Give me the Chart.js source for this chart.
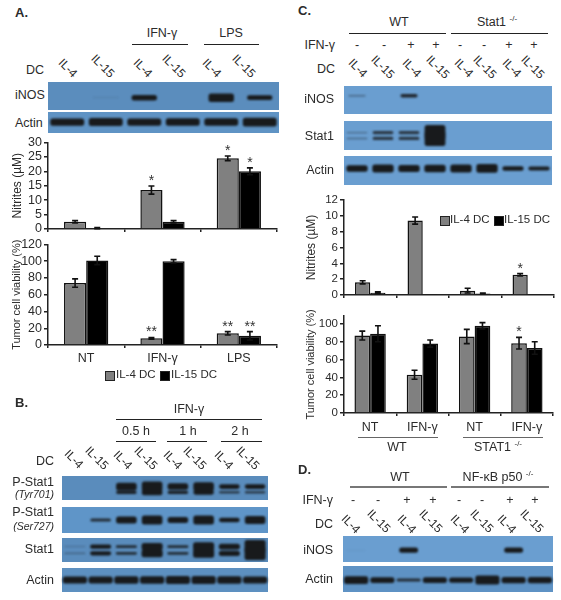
<!DOCTYPE html>
<html>
<head>
<meta charset="utf-8">
<title>Figure</title>
<script src="https://cdn.jsdelivr.net/npm/chart.js@4"></script>
<style>
  html, body { margin: 0; padding: 0; background: #fff; }
  #page { position: relative; width: 561px; height: 600px; overflow: hidden; font-family: "Liberation Sans", Arial, sans-serif; color: #2b2b2b; }
  .txt { position: absolute; white-space: nowrap; font-size: 12.5px; line-height: 1; }
  .rule { position: absolute; background: #222; height: 1px; }
  .blot { position: absolute; }
  .blot canvas { position: absolute; left: 0; top: 0; filter: blur(0.9px); }
  .plot { position: absolute; }
  .swatch { position: absolute; width: 8px; height: 8px; border: 1px solid #222; }
  sup { font-size: 8px; }
</style>
</head>
<body>
<div id="page"></div>
<script>
// ---------- Bar chart data ----------
const A_GROUPS = ["NT", "IFN-γ", "LPS"];
const A_NIT_IL4 = [2.5, 13.5, 24.5];
const A_NIT_IL15 = [0.3, 2.5, 20];
const A_NIT_IL4_ERR = [0.4, 1.4, 0.8];
const A_NIT_IL15_ERR = [0.2, 0.4, 1.2];
const A_NIT_IL4_STARS = ["", "*", "*"];
const A_NIT_IL15_STARS = ["", "", "*"];
const A_NIT_TICKS = [0, 5, 10, 15, 20, 25, 30];

const A_VIA_IL4 = [74, 8, 14];
const A_VIA_IL15 = [101, 100, 11];
const A_VIA_IL4_ERR = [5, 1, 2];
const A_VIA_IL15_ERR = [5, 2, 5];
const A_VIA_IL4_STARS = ["", "**", "**"];
const A_VIA_IL15_STARS = ["", "", "**"];
const A_VIA_TICKS = [0, 20, 40, 60, 80, 100, 120];

const C_GROUPS = ["NT", "IFN-γ", "NT", "IFN-γ"];
const C_NIT_IL4 = [1.6, 9.4, 0.55, 2.55];
const C_NIT_IL15 = [0.3, 0.05, 0.2, 0.05];
const C_NIT_IL4_ERR = [0.2, 0.45, 0.3, 0.15];
const C_NIT_IL15_ERR = [0.1, 0, 0.05, 0];
const C_NIT_IL4_STARS = ["", "", "", "*"];
const C_NIT_TICKS = [0, 2, 4, 6, 8, 10, 12];

const C_VIA_IL4 = [87, 43, 86, 78.5];
const C_VIA_IL15 = [89, 78, 98, 73];
const C_VIA_IL4_ERR = [5, 5, 8, 6.5];
const C_VIA_IL15_ERR = [9, 4, 3.5, 7];
const C_VIA_IL4_STARS = ["", "", "", "*"];
const C_VIA_TICKS = [0, 20, 40, 60, 80, 100];

// ---------- Blot data (band density per lane) ----------
const A_LANES = ["IL-4", "IL-15", "IL-4", "IL-15", "IL-4", "IL-15"];
const A_INOS = [0, 0.02, 0.2, 0, 0.3, 0.17];
const A_ACTIN = [0.34, 0.38, 0.34, 0.36, 0.36, 0.42];

const BCD_LANES = ["IL-4", "IL-15", "IL-4", "IL-15", "IL-4", "IL-15", "IL-4", "IL-15"];
const B_TYR_UP = [0, 0, 0.32, 0.42, 0.27, 0.36, 0.2, 0.2];
const B_TYR_LOW = [0, 0, 0.14, 0.24, 0.14, 0.2, 0.1, 0.1];
const B_SER = [0, 0.12, 0.26, 0.34, 0.24, 0.34, 0.18, 0.3];
const B_STAT_UP = [0.04, 0.18, 0.12, 0.3, 0.12, 0.36, 0.24, 0.55];
const B_STAT_LOW = [0.05, 0.18, 0.12, 0.32, 0.12, 0.36, 0.22, 0.55];
const B_ACTIN = [0.3, 0.3, 0.32, 0.32, 0.34, 0.34, 0.32, 0.3];

const C_INOS = [0.05, 0, 0.13, 0, 0, 0, 0, 0];
const C_STAT_UP = [0.05, 0.11, 0.11, 0.52, 0, 0, 0, 0];
const C_STAT_LOW = [0.05, 0.11, 0.11, 0.52, 0, 0, 0, 0];
const C_ACTIN = [0.22, 0.28, 0.24, 0.26, 0.28, 0.3, 0.16, 0.14];

const D_INOS = [0.01, 0, 0.2, 0, 0, 0, 0.2, 0];
const D_ACTIN = [0.3, 0.22, 0.12, 0.22, 0.2, 0.34, 0.24, 0.24];

// ---------- Treatment row and labels ----------
const C_TREAT = ["-", "-", "+", "+", "-", "-", "+", "+"];
const D_TREAT = ["-", "-", "+", "+", "-", "-", "+", "+"];

const page = document.getElementById("page");
const GRAY = "#808080";
const INK = "#111";

// ---------- Helpers ----------
function label(text, x, y, o = {}) {
  const d = document.createElement("div");
  d.className = "txt";
  d.innerHTML = text;
  d.style.left = x + "px";
  d.style.top = y + "px";
  const tx = o.align === "right" ? "-100%" : o.align === "left" ? "0" : "-50%";
  d.style.transform = `translate(${tx},-50%)` + (o.rot ? ` rotate(${o.rot}deg)` : "");
  if (o.size) d.style.fontSize = o.size + "px";
  if (o.bold) d.style.fontWeight = "bold";
  if (o.italic) d.style.fontStyle = "italic";
  page.appendChild(d);
}

function rule(x1, x2, y, color, h) {
  const d = document.createElement("div");
  d.className = "rule";
  d.style.cssText = `left:${x1}px;width:${x2 - x1}px;top:${y}px;` + (color ? `background:${color};` : "") + (h ? `height:${h}px;` : "");
  page.appendChild(d);
}

function swatch(x, y, color) {
  const d = document.createElement("div");
  d.className = "swatch";
  d.style.cssText = `left:${x}px;top:${y}px;background:${color};`;
  page.appendChild(d);
}

function laneLabels(names, xs, ys) {
  names.forEach((n, i) => label(n, xs[i], ys[i], { rot: 45, size: 12 }));
}

// error bars and significance stars
const errorBars = {
  id: "errorBars",
  afterDatasetsDraw(chart) {
    const { ctx, scales: { y } } = chart;
    chart.data.datasets.forEach((ds, i) => {
      const meta = chart.getDatasetMeta(i);
      meta.data.forEach((bar, j) => {
        const err = ds.errs[j];
        const top = y.getPixelForValue(ds.data[j] + err);
        const low = y.getPixelForValue(ds.data[j] - err);
        ctx.save();
        ctx.strokeStyle = INK;
        ctx.lineWidth = 1.6;
        if (err > 0) {
          ctx.beginPath();
          ctx.moveTo(bar.x, top); ctx.lineTo(bar.x, low);
          ctx.moveTo(bar.x - 3, top); ctx.lineTo(bar.x + 3, top);
          ctx.moveTo(bar.x - 3, low); ctx.lineTo(bar.x + 3, low);
          ctx.stroke();
        }
        const star = ds.stars ? ds.stars[j] : "";
        if (star) {
          ctx.fillStyle = "#333";
          ctx.font = "14px 'Liberation Sans'";
          ctx.textAlign = "center";
          ctx.textBaseline = "alphabetic";
          ctx.fillText(star, bar.x, top - 1);
        }
        ctx.restore();
      });
    });
  }
};

// one bar panel; plot area given in page pixels
function barPanel(p) {
  const PAD_TOP = 9;
  const wrap = document.createElement("div");
  wrap.className = "plot";
  const left = p.plot.left - p.yWidth;
  const w = p.plot.right - left + 5;
  const h = PAD_TOP + (p.plot.bottom - p.plot.top) + p.xHeight;
  wrap.style.cssText = `left:${left}px;top:${p.plot.top - PAD_TOP}px;width:${w}px;height:${h}px;`;
  const cv = document.createElement("canvas");
  cv.width = w;
  cv.height = h;
  wrap.appendChild(cv);
  page.appendChild(wrap);

  new Chart(cv, {
    type: "bar",
    data: {
      labels: p.labels,
      datasets: [
        { label: "IL-4 DC", data: p.il4, errs: p.il4Err, stars: p.il4Stars, backgroundColor: GRAY, borderColor: INK, borderWidth: 1.5 },
        { label: "IL-15 DC", data: p.il15, errs: p.il15Err, stars: p.il15Stars, backgroundColor: "#000", borderColor: INK, borderWidth: 1.5 }
      ]
    },
    plugins: [errorBars],
    options: {
      responsive: false,
      animation: false,
      layout: { padding: { top: PAD_TOP, right: 5, left: 0, bottom: 0 } },
      plugins: { legend: { display: false }, tooltip: { enabled: false } },
      datasets: { bar: { categoryPercentage: p.groupPct, barPercentage: 1 } },
      scales: {
        x: {
          afterFit: s => { s.height = p.xHeight; },
          border: { color: "#222", width: 1.5 },
          grid: { drawOnChartArea: false, drawTicks: true, tickLength: 3, color: "#222", lineWidth: 1.5, offset: true },
          ticks: { display: p.showX, color: "#2b2b2b", font: { family: "Liberation Sans", size: 12.5 }, padding: p.xPad || 4, maxRotation: 0, autoSkip: false }
        },
        y: {
          min: p.min, max: p.max,
          afterFit: s => { s.width = p.yWidth; },
          afterBuildTicks: s => { s.ticks = p.ticks.map(v => ({ value: v })); },
          border: { color: "#222", width: 1.5 },
          grid: { drawOnChartArea: false, tickLength: 4, color: "#222", lineWidth: 1.5 },
          ticks: { color: "#2b2b2b", font: { family: "Liberation Sans", size: p.tickSize }, padding: 2, autoSkip: false },
          title: { display: true, text: p.yTitle, color: "#2b2b2b", font: { family: "Liberation Sans", size: p.titleSize }, padding: { top: p.titleInset, bottom: 0 } }
        }
      }
    }
  });
}

// one blot strip: every row of densities is a band across the lanes, drawn as floating bars
function blotPanel(b) {
  const wrap = document.createElement("div");
  wrap.className = "blot";
  wrap.style.cssText = `left:${b.x}px;top:${b.y}px;width:${b.w}px;height:${b.h}px;background:${b.bg};`;
  const cv = document.createElement("canvas");
  cv.width = b.w;
  cv.height = b.h;
  wrap.appendChild(cv);
  page.appendChild(wrap);

  new Chart(cv, {
    type: "bar",
    data: {
      labels: b.rows[0].map((_, i) => i + 1),
      datasets: b.rows.map((row, r) => ({
        data: row.map(v => v > 0 ? [b.centers[r] - v / 2, b.centers[r] + v / 2] : null),
        backgroundColor: row.map(v => `rgba(24,26,28,${Math.min(1, 0.12 + v * 6)})`),
        borderRadius: 2.5,
        borderSkipped: false,
        borderWidth: 0,
        grouped: false,
        categoryPercentage: 1,
        barPercentage: b.laneFill
      }))
    },
    options: {
      responsive: false,
      animation: false,
      layout: { padding: 0 },
      plugins: { legend: { display: false }, tooltip: { enabled: false } },
      scales: {
        x: { display: false },
        y: { display: false, min: 0, max: 1 }
      }
    }
  });
}

// ---------- Panel A ----------
label("A.", 15, 12, { bold: true, size: 13, align: "left" });
label("IFN-γ", 162, 33);
rule(132, 188, 44);
label("LPS", 231, 33);
rule(204, 259, 44);
label("DC", 44, 70, { align: "right" });
laneLabels(A_LANES, [68, 103, 143, 174, 212, 244], [68, 66, 68, 66, 68, 66]);
label("iNOS", 15, 95, { align: "left" });
label("Actin", 15, 123, { align: "left" });
blotPanel({ x: 48, y: 82, w: 231, h: 28, bg: "#5b8dbd", rows: [A_INOS], centers: [0.44], laneFill: 0.66 });
blotPanel({ x: 48, y: 112, w: 231, h: 21, bg: "#5f93c4", rows: [A_ACTIN], centers: [0.52], laneFill: 0.88 });

barPanel({
  plot: { left: 48, right: 277, top: 142, bottom: 229 }, yWidth: 48, xHeight: 10, showX: false,
  labels: A_GROUPS, il4: A_NIT_IL4, il15: A_NIT_IL15, il4Err: A_NIT_IL4_ERR, il15Err: A_NIT_IL15_ERR,
  il4Stars: A_NIT_IL4_STARS, il15Stars: A_NIT_IL15_STARS, min: 0, max: 30, ticks: A_NIT_TICKS,
  yTitle: "Nitrites (µM)", groupPct: 0.58, tickSize: 12.5, titleSize: 12, titleInset: 10
});
barPanel({
  plot: { left: 48, right: 277, top: 244, bottom: 345 }, yWidth: 48, xHeight: 24, showX: true, xPad: 3,
  labels: A_GROUPS, il4: A_VIA_IL4, il15: A_VIA_IL15, il4Err: A_VIA_IL4_ERR, il15Err: A_VIA_IL15_ERR,
  il4Stars: A_VIA_IL4_STARS, il15Stars: A_VIA_IL15_STARS, min: 0, max: 120, ticks: A_VIA_TICKS,
  yTitle: "Tumor cell viability (%)", groupPct: 0.58, tickSize: 12.5, titleSize: 11, titleInset: 10
});
swatch(105, 371, GRAY);
label("IL-4 DC", 116, 375, { align: "left", size: 11.5 });
swatch(160, 371, "#000");
label("IL-15 DC", 171, 375, { align: "left", size: 11.5 });

// ---------- Panel B ----------
label("B.", 15, 402, { bold: true, size: 13, align: "left" });
label("IFN-γ", 189, 409);
rule(116, 262, 419);
label("0.5 h", 136, 431);
rule(116, 156, 441);
label("1 h", 188, 431);
rule(167, 207, 441);
label("2 h", 240, 431);
rule(221, 262, 441);
label("DC", 54, 461, { align: "right" });
laneLabels(BCD_LANES, [74, 97, 123, 146, 173, 195, 224, 248], [459, 458, 460, 458, 460, 458, 460, 458]);
label("P-Stat1", 54, 482, { align: "right" });
label("(Tyr701)", 54, 494, { align: "right", italic: true, size: 10.5 });
label("P-Stat1", 54, 512, { align: "right" });
label("(Ser727)", 54, 526, { align: "right", italic: true, size: 10.5 });
label("Stat1", 54, 549, { align: "right" });
label("Actin", 54, 580, { align: "right" });
blotPanel({ x: 62, y: 476, w: 206, h: 24, bg: "#5a8cbc", rows: [B_TYR_UP, B_TYR_LOW], centers: [0.56, 0.32], laneFill: 0.8 });
blotPanel({ x: 62, y: 507, w: 206, h: 26, bg: "#5f95c8", rows: [B_SER], centers: [0.5], laneFill: 0.8 });
blotPanel({ x: 62, y: 538, w: 206, h: 24, bg: "#5a8cbc", rows: [B_STAT_UP, B_STAT_LOW], centers: [0.64, 0.36], laneFill: 0.82 });
blotPanel({ x: 62, y: 568, w: 206, h: 24, bg: "#5d90c0", rows: [B_ACTIN], centers: [0.5], laneFill: 0.94 });

// ---------- Panel C ----------
label("C.", 298, 10, { bold: true, size: 13, align: "left" });
label("WT", 399, 22);
rule(349, 446, 33);
label("Stat1 <sup>-/-</sup>", 497, 22);
rule(451, 548, 33);
label("IFN-γ", 335, 45, { align: "right" });
C_TREAT.forEach((t, i) => label(t, [357, 384, 411, 436, 460, 484, 509, 534][i], 45));
label("DC", 335, 69, { align: "right" });
laneLabels(BCD_LANES, [358, 383, 412, 438, 464, 485, 512, 533], [68, 67, 68, 67, 68, 67, 68, 67]);
label("iNOS", 334, 99, { align: "right" });
label("Stat1", 334, 136, { align: "right" });
label("Actin", 334, 170, { align: "right" });
blotPanel({ x: 344, y: 86, w: 208, h: 28, bg: "#6a9ed0", rows: [C_INOS], centers: [0.65], laneFill: 0.66 });
blotPanel({ x: 344, y: 121, w: 208, h: 29, bg: "#6a9ed0", rows: [C_STAT_UP, C_STAT_LOW], centers: [0.6, 0.4], laneFill: 0.8 });
blotPanel({ x: 344, y: 156, w: 208, h: 29, bg: "#6a9ed0", rows: [C_ACTIN], centers: [0.57], laneFill: 0.82 });

barPanel({
  plot: { left: 344, right: 554, top: 200, bottom: 295 }, yWidth: 44, xHeight: 10, showX: false,
  labels: C_GROUPS, il4: C_NIT_IL4, il15: C_NIT_IL15, il4Err: C_NIT_IL4_ERR, il15Err: C_NIT_IL15_ERR,
  il4Stars: C_NIT_IL4_STARS, min: 0, max: 12, ticks: C_NIT_TICKS,
  yTitle: "Nitrites (µM)", groupPct: 0.58, tickSize: 11.5, titleSize: 12, titleInset: 4
});
swatch(440, 216, GRAY);
label("IL-4 DC", 450, 220, { align: "left", size: 11.5 });
swatch(494, 216, "#000");
label("IL-15 DC", 504, 220, { align: "left", size: 11.5 });

barPanel({
  plot: { left: 344, right: 553, top: 316, bottom: 413 }, yWidth: 44, xHeight: 22, showX: true, xPad: 4,
  labels: C_GROUPS, il4: C_VIA_IL4, il15: C_VIA_IL15, il4Err: C_VIA_IL4_ERR, il15Err: C_VIA_IL15_ERR,
  il4Stars: C_VIA_IL4_STARS, min: 0, max: 109, ticks: C_VIA_TICKS,
  yTitle: "Tumor cell viability (%)", groupPct: 0.6, tickSize: 11.5, titleSize: 11, titleInset: 4
});
rule(358, 438, 437, "#666");
rule(463, 543, 437, "#666");
label("WT", 397, 447);
label("STAT1 <sup>-/-</sup>", 498, 447);

// ---------- Panel D ----------
label("D.", 298, 469, { bold: true, size: 13, align: "left" });
label("WT", 400, 477);
rule(350, 447, 486, "#777", 2);
label("NF-κB p50 <sup>-/-</sup>", 498, 477);
rule(451, 549, 486, "#777", 2);
label("IFN-γ", 333, 500, { align: "right" });
D_TREAT.forEach((t, i) => label(t, [353, 378, 407, 433, 459, 482, 510, 535][i], 500));
label("DC", 333, 524, { align: "right" });
laneLabels(BCD_LANES, [351, 379, 407, 431, 460, 482, 507, 532], [524, 521, 524, 521, 524, 521, 524, 521]);
label("iNOS", 333, 550, { align: "right" });
label("Actin", 333, 579, { align: "right" });
blotPanel({ x: 343, y: 536, w: 210, h: 26, bg: "#6a9ed0", rows: [D_INOS], centers: [0.46], laneFill: 0.72 });
blotPanel({ x: 343, y: 566, w: 210, h: 26, bg: "#5e92c4", rows: [D_ACTIN], centers: [0.46], laneFill: 0.92 });
</script>
</body>
</html>
